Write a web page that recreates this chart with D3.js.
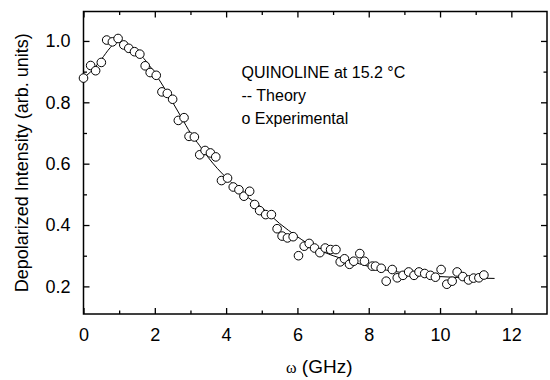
<!DOCTYPE html>
<html>
<head>
<meta charset="utf-8">
<script src="https://cdn.jsdelivr.net/npm/d3@7"></script>
<style>
  body { margin: 0; background: #fff; }
  svg { display: block; font-family: "Liberation Sans", Arial, sans-serif; }
</style>
</head>
<body>
<div id="chart"></div>
<script>
// experimental points (GHz, arb. units)
var expX = [0.0, 0.2, 0.34, 0.5, 0.65, 0.81, 0.97, 1.13, 1.27, 1.43, 1.58, 1.73, 1.87, 2.04, 2.2, 2.35, 2.5, 2.66, 2.82, 2.96, 3.11, 3.26, 3.41, 3.56, 3.71,
            3.87, 4.04, 4.2, 4.36, 4.5, 4.66, 4.8, 4.94, 5.11, 5.27, 5.43, 5.57, 5.72, 5.88, 6.03, 6.19, 6.33, 6.48, 6.63, 6.78, 6.93, 7.08, 7.2, 7.32,
            7.46, 7.58, 7.75, 7.88, 8.1, 8.19, 8.35, 8.49, 8.66, 8.8, 8.96, 9.12, 9.27, 9.41, 9.57, 9.73, 9.87, 10.03, 10.19, 10.34, 10.48, 10.64, 10.8, 10.94, 11.09, 11.23];
var expY = [0.879, 0.92, 0.903, 0.93, 1.003, 0.997, 1.008, 0.987, 0.976, 0.965, 0.957, 0.919, 0.897, 0.888, 0.834, 0.829, 0.81, 0.741, 0.75, 0.689, 0.687, 0.629, 0.643, 0.635, 0.622,
            0.545, 0.553, 0.524, 0.515, 0.494, 0.51, 0.467, 0.447, 0.434, 0.434, 0.388, 0.364, 0.358, 0.362, 0.30, 0.331, 0.34, 0.325, 0.31, 0.325, 0.32, 0.32, 0.28, 0.29,
            0.272, 0.282, 0.307, 0.282, 0.266, 0.266, 0.259, 0.217, 0.255, 0.228, 0.236, 0.247, 0.236, 0.247, 0.242, 0.236, 0.23, 0.255, 0.207, 0.217, 0.247, 0.232, 0.221, 0.227, 0.228, 0.237];

// theory curve
var theoryX = [0.0, 0.25, 0.5, 0.75, 0.95, 1.2, 1.5, 1.75, 2.0, 2.25, 2.5, 2.75, 3.0, 3.25, 3.5, 3.75, 4.0, 4.5, 5.0, 5.5, 6.0, 6.5, 7.0, 7.5, 8.0, 8.5, 9.0, 9.5, 10.0, 10.5, 11.0, 11.53];
var theoryY = [0.88, 0.905, 0.94, 0.978, 0.998, 0.99, 0.965, 0.935, 0.895, 0.85, 0.80, 0.75, 0.70, 0.66, 0.62, 0.585, 0.555, 0.50, 0.457, 0.405, 0.362, 0.325, 0.30, 0.282, 0.265, 0.253, 0.244, 0.237, 0.232, 0.229, 0.227, 0.226];

var xTicks = [0, 2, 4, 6, 8, 10, 12];
var xMinor = [1, 3, 5, 7, 9, 11];
var yTicks = [0.2, 0.4, 0.6, 0.8, 1.0];
var yMinor = [0.3, 0.5, 0.7, 0.9];

var W = 550, H = 380;
var margin = {top: 11.5, right: 3, bottom: 66, left: 83.5};
var width = W - margin.left - margin.right,
    height = H - margin.top - margin.bottom;

var svg = d3.select("#chart").append("svg")
    .attr("width", W)
    .attr("height", H)
  .append("g")
    .attr("transform", "translate(" + margin.left + "," + margin.top + ")");

var x = d3.scaleLinear().domain([0, 13]).range([0, width]);
var y = d3.scaleLinear().domain([0.11, 1.096]).range([height, 0]);

// axes, ticks pointing inward on all sides
var fmt = d3.format(".1f");
svg.append("g").attr("transform", "translate(0," + height + ")")
    .call(d3.axisBottom(x).tickValues(xTicks).tickSize(-6).tickPadding(14).tickFormat(d3.format("d")));
svg.append("g").attr("transform", "translate(0," + height + ")")
    .call(d3.axisBottom(x).tickValues(xMinor).tickSize(-3.5).tickFormat(""));
svg.append("g")
    .call(d3.axisLeft(y).tickValues(yTicks).tickSize(-6).tickPadding(13).tickFormat(fmt));
svg.append("g")
    .call(d3.axisLeft(y).tickValues(yMinor).tickSize(-3.5).tickFormat(""));
svg.append("g")
    .call(d3.axisTop(x).tickValues(xTicks).tickSize(-6).tickFormat(""));
svg.append("g")
    .call(d3.axisTop(x).tickValues(xMinor).tickSize(-3.5).tickFormat(""));
svg.append("g").attr("transform", "translate(" + width + ",0)")
    .call(d3.axisRight(y).tickValues(yTicks).tickSize(-6).tickFormat(""));
svg.append("g").attr("transform", "translate(" + width + ",0)")
    .call(d3.axisRight(y).tickValues(yMinor).tickSize(-3.5).tickFormat(""));

svg.selectAll(".domain").remove();
svg.selectAll(".tick line").attr("stroke", "#000").attr("stroke-width", 1.3);
svg.selectAll(".tick text").attr("fill", "#000").style("font-size", "18px")
    .style("font-family", "'Liberation Sans', Arial, sans-serif");

svg.append("rect")
    .attr("x", 0).attr("y", 0)
    .attr("width", width).attr("height", height)
    .attr("fill", "none").attr("stroke", "#000").attr("stroke-width", 1.5);

// theory line
var theory = theoryX.map(function(d, i) { return [d, theoryY[i]]; });
svg.append("path")
    .datum(theory)
    .attr("fill", "none")
    .attr("stroke", "#000")
    .attr("stroke-width", 1)
    .attr("d", d3.line()
      .x(function(d) { return x(d[0]); })
      .y(function(d) { return y(d[1]); })
      .curve(d3.curveMonotoneX));

// experimental circles
svg.selectAll("circle.exp")
    .data(expX)
    .enter().append("circle")
    .attr("class", "exp")
    .attr("cx", function(d) { return x(d); })
    .attr("cy", function(d, i) { return y(expY[i]); })
    .attr("r", 4.3)
    .attr("fill", "#fff")
    .attr("stroke", "#000")
    .attr("stroke-width", 1);

// legend text
var legend = svg.append("g").attr("transform", "translate(" + (241.5 - margin.left) + ",0)")
    .style("font-size", "16px").attr("fill", "#000");
legend.append("text").attr("y", 78.3 - margin.top).text("QUINOLINE at 15.2 °C");
legend.append("text").attr("y", 101.3 - margin.top).text("-- Theory");
legend.append("text").attr("y", 124 - margin.top).text("o Experimental");

// axis titles
svg.append("text")
    .attr("text-anchor", "middle")
    .attr("transform", "translate(" + (28 - margin.left) + "," + (height / 2) + ") rotate(-90)")
    .style("font-size", "18px")
    .text("Depolarized Intensity (arb. units)");

var xt = svg.append("text")
    .attr("text-anchor", "middle")
    .attr("x", width / 2 + 4)
    .attr("y", 373 - margin.top)
    .style("font-size", "19px");
xt.append("tspan").style("font-family", "'Liberation Serif', serif").style("font-size", "16px").text("ω");
xt.append("tspan").text(" (GHz)");
</script>
</body>
</html>
